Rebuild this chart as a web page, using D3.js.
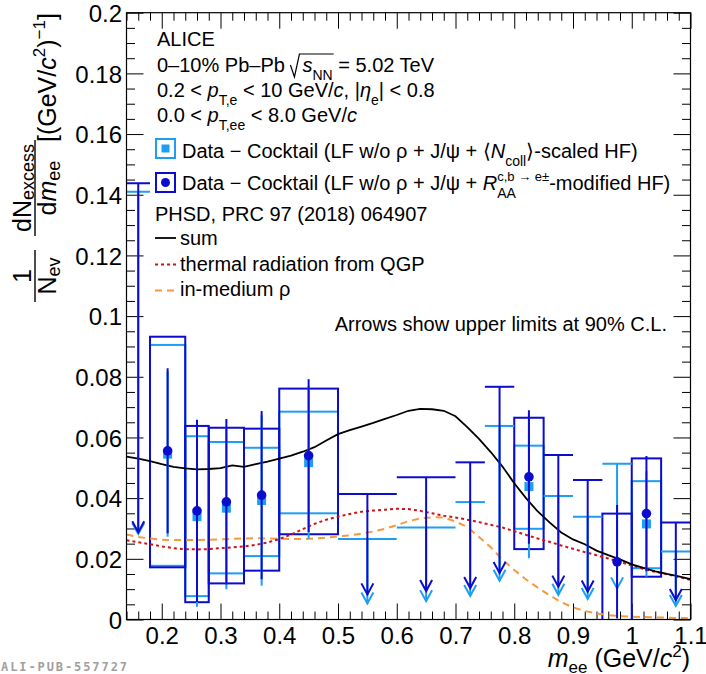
<!DOCTYPE html>
<html><head><meta charset="utf-8">
<script src="https://cdn.jsdelivr.net/npm/d3@7"></script>
<style>
body{margin:0;background:#fff;}
svg text{font-family:"Liberation Sans",Arial,Helvetica,sans-serif;white-space:pre;fill:#000;}
</style></head><body>
<svg id="c" width="706" height="674"></svg>
<script>
// ---- mass bins (GeV/c^2) ----
const binLo = [0.14,0.18,0.24,0.28,0.34,0.40,0.50,0.60,0.70,0.75,0.80,0.85,0.90,0.95,1.00,1.05];
const binHi = [0.18,0.24,0.28,0.34,0.40,0.50,0.60,0.70,0.75,0.80,0.85,0.90,0.95,1.00,1.05,1.10];

// ---- Data - Cocktail, R_AA-modified HF (dark blue) ----
const darkVal   = [null,0.0556,0.0358,0.0388,0.0410,0.0540,null,null,null,null,0.0470,null,null,0.0190,0.0349,null];
const darkStat  = [null,0.0272,0.0300,0.0273,0.0277,0.0252,null,null,null,null,0.0220,null,null,0.0187,0.0190,null];
const darkSysHi = [null,0.0932,0.0638,0.0632,0.0629,0.0761,null,null,null,null,0.0665,null,null,0.0349,0.0531,null];
const darkSysLo = [null,0.0172,0.0057,0.0119,0.0161,0.0281,null,null,null,null,0.0232,null,null,-0.0030,0.0141,null];
const darkLimit = [0.1438,null,null,null,null,null,0.0414,0.0469,0.0518,0.0767,null,0.0542,0.0460,null,null,0.0320];

// ---- Data - Cocktail, <Ncoll>-scaled HF (light blue) ----
const lightVal   = [null,0.0545,0.0339,0.0367,0.0392,0.0517,null,null,null,null,0.0438,null,null,null,0.0315,null];
const lightStat  = [null,0.0272,0.0297,0.0267,0.0281,0.0252,null,null,null,null,0.0236,null,null,null,0.0174,null];
const lightSysHi = [null,0.0905,0.0604,0.0585,0.0566,0.0685,null,null,null,null,0.0573,null,null,null,0.0456,null];
const lightSysLo = [null,0.0177,0.0077,0.0152,0.0209,0.0350,null,null,null,null,0.0299,null,null,null,0.0169,null];
const lightLimit = [0.1410,null,null,null,null,null,0.0265,0.0303,0.0387,0.0638,null,0.0407,0.0339,0.0513,null,0.0224];

// upper-limit arrows end at this fraction of the limit
const arrowEndFrac = 0.2;

// ---- PHSD model curves ----
const modelMass = [0.14,0.16,0.18,0.20,0.22,0.24,0.26,0.28,0.30,0.32,0.34,0.36,0.38,0.40,0.42,0.44,0.46,0.48,0.50,0.52,0.54,0.56,0.58,0.60,0.62,0.64,0.66,0.68,0.70,0.72,0.74,0.76,0.78,0.80,0.82,0.84,0.86,0.88,0.90,0.92,0.94,0.96,0.98,1.00,1.02,1.04,1.06,1.08,1.10];
const modelSum = [0.0537,0.0530,0.0522,0.0512,0.0503,0.0498,0.0495,0.0496,0.0499,0.0508,0.0503,0.0512,0.0520,0.0530,0.0540,0.0553,0.0568,0.0590,0.0611,0.0624,0.0636,0.0648,0.0661,0.0674,0.0688,0.0694,0.0693,0.0688,0.0670,0.0634,0.0595,0.0552,0.0504,0.0449,0.0400,0.0356,0.0320,0.0287,0.0264,0.0248,0.0227,0.0212,0.0198,0.0182,0.0170,0.0159,0.0150,0.0142,0.0133];
const modelQGP = [0.0261,0.0255,0.0248,0.0241,0.0235,0.0232,0.0231,0.0232,0.0235,0.0238,0.0241,0.0246,0.0254,0.0265,0.0280,0.0298,0.0315,0.0329,0.0339,0.0348,0.0355,0.0359,0.0362,0.0365,0.0364,0.0358,0.0350,0.0342,0.0336,0.0329,0.0321,0.0312,0.0303,0.0291,0.0279,0.0267,0.0256,0.0244,0.0233,0.0222,0.0212,0.0201,0.0190,0.0178,0.0167,0.0157,0.0149,0.0140,0.0130];
const modelRho = [0.0280,0.0272,0.0267,0.0263,0.0262,0.0262,0.0262,0.0263,0.0264,0.0266,0.0267,0.0268,0.0267,0.0266,0.0265,0.0265,0.0267,0.0270,0.0274,0.0277,0.0283,0.0290,0.0299,0.0311,0.0324,0.0333,0.0337,0.0336,0.0323,0.0305,0.0272,0.0238,0.0198,0.0163,0.0132,0.0105,0.0080,0.0057,0.0040,0.0028,0.0020,0.0014,0.0011,0.0009,0.0008,0.0007,0.0006,0.0005,0.0004];

// ---- axis ticks ----
const xTickValues = [0.2,0.3,0.4,0.5,0.6,0.7,0.8,0.9,1.0,1.1];
const xTickLabels = ["0.2","0.3","0.4","0.5","0.6","0.7","0.8","0.9","1","1.1"];
const yTickValues = [0,0.02,0.04,0.06,0.08,0.10,0.12,0.14,0.16,0.18,0.20];
const yTickLabels = ["0","0.02","0.04","0.06","0.08","0.1","0.12","0.14","0.16","0.18","0.2"];

const DARK = "#0c0cce", LIGHT = "#1e9ef0", RED = "#cc1414", ORANGE = "#f7993c";

const svg = d3.select("#c");
const L = 126.5, R = 690.5, T = 12.7, B = 619.5;
const x = d3.scaleLinear().domain([0.14, 1.1]).range([L, R]);
const y = d3.scaleLinear().domain([0, 0.2]).range([B, T]);

svg.append("clipPath").attr("id", "frame").append("rect")
  .attr("x", L).attr("y", T).attr("width", R - L).attr("height", B - T);

// ---- axes (ticks pointing into the frame) ----
const xMinor = d3.range(0.14, 1.1001, 0.02).filter(v => !xTickValues.some(t => Math.abs(t - v) < 1e-6));
const yMinor = d3.range(0, 0.2001, 0.005).filter(v => !yTickValues.some(t => Math.abs(t - v) < 1e-6));

function styleAxis(g) {
  g.select(".domain").remove();
  g.selectAll("line").attr("stroke", "#000").attr("stroke-width", 1);
  g.selectAll("text").style("font-size", "24px").attr("fill", "#000");
}
svg.append("g").attr("transform", `translate(0,${B})`)
  .call(d3.axisBottom(x).tickValues(xTickValues).tickFormat((d, i) => xTickLabels[i]).tickSizeInner(-16).tickSizeOuter(0).tickPadding(7.5))
  .call(styleAxis).attr("font-family", null);
svg.append("g").attr("transform", `translate(0,${B})`)
  .call(d3.axisBottom(x).tickValues(xMinor).tickFormat("").tickSizeInner(-8).tickSizeOuter(0)).call(styleAxis);
svg.append("g").attr("transform", `translate(0,${T})`)
  .call(d3.axisTop(x).tickValues(xTickValues).tickFormat("").tickSizeInner(-16).tickSizeOuter(0)).call(styleAxis);
svg.append("g").attr("transform", `translate(0,${T})`)
  .call(d3.axisTop(x).tickValues(xMinor).tickFormat("").tickSizeInner(-8).tickSizeOuter(0)).call(styleAxis);
svg.append("g").attr("transform", `translate(${L},0)`)
  .call(d3.axisLeft(y).tickValues(yTickValues).tickFormat((d, i) => yTickLabels[i]).tickSizeInner(-17).tickSizeOuter(0).tickPadding(4.5))
  .call(styleAxis).attr("font-family", null)
  .selectAll("text").attr("dy", "0.36em");
svg.append("g").attr("transform", `translate(${L},0)`)
  .call(d3.axisLeft(y).tickValues(yMinor).tickFormat("").tickSizeInner(-8.5).tickSizeOuter(0)).call(styleAxis);
svg.append("g").attr("transform", `translate(${R},0)`)
  .call(d3.axisRight(y).tickValues(yTickValues).tickFormat("").tickSizeInner(-17).tickSizeOuter(0)).call(styleAxis);
svg.append("g").attr("transform", `translate(${R},0)`)
  .call(d3.axisRight(y).tickValues(yMinor).tickFormat("").tickSizeInner(-8.5).tickSizeOuter(0)).call(styleAxis);

// ---- data layer ----
const plot = svg.append("g").attr("clip-path", "url(#frame)");
const bins = binLo.map((lo, i) => ({i, lo, hi: binHi[i], c: (lo + binHi[i]) / 2}));

function sysBoxes(hi, lo, color) {
  plot.append("g").selectAll("rect").data(bins.filter(b => hi[b.i] !== null)).join("rect")
    .attr("x", b => x(b.lo)).attr("width", b => x(b.hi) - x(b.lo))
    .attr("y", b => y(hi[b.i])).attr("height", b => y(lo[b.i]) - y(hi[b.i]))
    .attr("fill", "none").attr("stroke", color).attr("stroke-width", 2);
}
sysBoxes(lightSysHi, lightSysLo, LIGHT);
sysBoxes(darkSysHi, darkSysLo, DARK);

// model curves
const line = arr => d3.line().x((d, i) => x(modelMass[i])).y(d => y(d))(arr);
plot.append("path").attr("d", line(modelRho)).attr("fill", "none").attr("stroke", ORANGE)
  .attr("stroke-width", 2).attr("stroke-dasharray", "7,5");
plot.append("path").attr("d", line(modelQGP)).attr("fill", "none").attr("stroke", RED)
  .attr("stroke-width", 2).attr("stroke-dasharray", "3,3");
plot.append("path").attr("d", line(modelSum)).attr("fill", "none").attr("stroke", "#000")
  .attr("stroke-width", 1.8);

function series(val, stat, limit, color, marker) {
  const g = plot.append("g");
  const pts = bins.filter(b => val[b.i] !== null);
  g.selectAll("line.err").data(pts).join("line").attr("class", "err")
    .attr("x1", b => x(b.c)).attr("x2", b => x(b.c))
    .attr("y1", b => y(val[b.i] + stat[b.i])).attr("y2", b => y(val[b.i] - stat[b.i]))
    .attr("stroke", color).attr("stroke-width", 2);
  const lims = bins.filter(b => limit[b.i] !== null);
  g.selectAll("line.lim").data(lims).join("line").attr("class", "lim")
    .attr("x1", b => x(b.lo)).attr("x2", b => x(b.hi))
    .attr("y1", b => y(limit[b.i])).attr("y2", b => y(limit[b.i]))
    .attr("stroke", color).attr("stroke-width", 2);
  g.selectAll("line.arr").data(lims).join("line").attr("class", "arr")
    .attr("x1", b => x(b.c)).attr("x2", b => x(b.c))
    .attr("y1", b => y(limit[b.i])).attr("y2", b => y(limit[b.i] * arrowEndFrac))
    .attr("stroke", color).attr("stroke-width", 2);
  g.selectAll("path.head").data(lims).join("path").attr("class", "head")
    .attr("d", b => { const cx = x(b.c), ty = y(limit[b.i] * arrowEndFrac);
      return `M${cx - 6},${ty - 11} L${cx},${ty} L${cx + 6},${ty - 11}`; })
    .attr("fill", "none").attr("stroke", color).attr("stroke-width", 2);
  if (marker === "square") {
    g.selectAll("rect").data(pts).join("rect")
      .attr("x", b => x(b.c) - 4.5).attr("y", b => y(val[b.i]) - 4.5)
      .attr("width", 9).attr("height", 9).attr("fill", color);
  } else {
    g.selectAll("circle").data(pts).join("circle")
      .attr("cx", b => x(b.c)).attr("cy", b => y(val[b.i])).attr("r", 4.8).attr("fill", color);
  }
}
series(lightVal, lightStat, lightLimit, LIGHT, "square");
series(darkVal, darkStat, darkLimit, DARK, "circle");

// frame
svg.append("rect").attr("x", L).attr("y", T).attr("width", R - L).attr("height", B - T)
  .attr("fill", "none").attr("stroke", "#000").attr("stroke-width", 1.2);

// ---- rich text helper: sequential pieces with sub/superscripts ----
function rich(parent, x0, y0, segs, opts = {}) {
  const base = opts.size || 20;
  const g = parent.append("g");
  let cx = 0, lastX = 0, radX = 0;
  for (const s of segs) {
    if (s.gap) { cx += s.gap; continue; }
    if (s.radStart) { radX = cx; cx += 12; continue; }
    if (s.radEnd) {
      g.append("path").attr("d", `M${radX},-7 L${radX + 4},5 L${radX + 9},-18 L${cx + 1},-18`)
        .attr("fill", "none").attr("stroke", "#000").attr("stroke-width", 1.2);
      continue;
    }
    const t = g.append("text").attr("y", s.dy || 0)
      .style("font-size", (s.fs || base) + "px").style("font-style", s.it ? "italic" : "normal").text(s.t);
    const w = t.node().getComputedTextLength();
    if (s.stack) { t.attr("x", lastX); cx = Math.max(cx, lastX + w); }
    else { t.attr("x", cx); lastX = cx; cx += w; }
  }
  const shift = opts.anchor === "middle" ? -cx / 2 : opts.anchor === "end" ? -cx : 0;
  g.attr("transform", `translate(${x0 + shift},${y0})`);
  return cx;
}
const sub = (t, fs = 14, dy = 8) => ({t, fs, dy});
const sup = (t, fs = 13, dy = -9) => ({t, fs, dy});

// ---- header text ----
rich(svg, 157, 46, [{t: "ALICE"}]);
rich(svg, 157, 72, [{t: "0–10% Pb–Pb "}, {radStart: true}, {t: "s", it: true}, sub("NN"), {radEnd: true}, {t: " = 5.02 TeV"}]);
rich(svg, 157, 97, [{t: "0.2 < "}, {t: "p", it: true}, sub("T,e"), {t: " < 10 GeV/"}, {t: "c", it: true}, {t: ", |"}, {t: "η", it: true}, sub("e"), {t: "| < 0.8"}]);
rich(svg, 157, 122, [{t: "0.0 < "}, {t: "p", it: true}, sub("T,ee"), {t: " < 8.0 GeV/"}, {t: "c", it: true}]);

// legend: data
svg.append("rect").attr("x", 156).attr("y", 139).attr("width", 19).attr("height", 19)
  .attr("fill", "none").attr("stroke", LIGHT).attr("stroke-width", 2);
svg.append("rect").attr("x", 161.5).attr("y", 144.5).attr("width", 8).attr("height", 8).attr("fill", LIGHT);
svg.append("rect").attr("x", 156).attr("y", 173).attr("width", 19).attr("height", 19)
  .attr("fill", "none").attr("stroke", DARK).attr("stroke-width", 2);
svg.append("circle").attr("cx", 165.5).attr("cy", 182.5).attr("r", 4.5).attr("fill", DARK);
rich(svg, 182, 158, [{t: "Data − Cocktail (LF w/o ρ + J/ψ + ⟨"}, {t: "N", it: true}, sub("coll"), {t: "⟩-scaled HF)"}]);
rich(svg, 182, 190, [{t: "Data − Cocktail (LF w/o ρ + J/ψ + "}, {t: "R", it: true}, sub("AA", 14, 8), {t: "c,b → e±", fs: 13, dy: -9, stack: true}, {t: "-modified HF)"}]);

// legend: model
rich(svg, 155, 221, [{t: "PHSD, PRC 97 (2018) 064907"}]);
svg.append("line").attr("x1", 155).attr("x2", 176).attr("y1", 238).attr("y2", 238).attr("stroke", "#000").attr("stroke-width", 1.8);
svg.append("line").attr("x1", 155).attr("x2", 176).attr("y1", 264.5).attr("y2", 264.5).attr("stroke", RED).attr("stroke-width", 2).attr("stroke-dasharray", "3,3");
svg.append("line").attr("x1", 155).attr("x2", 176).attr("y1", 290.5).attr("y2", 290.5).attr("stroke", ORANGE).attr("stroke-width", 2).attr("stroke-dasharray", "7,5");
rich(svg, 180, 245, [{t: "sum"}]);
rich(svg, 180, 271, [{t: "thermal radiation from QGP"}]);
rich(svg, 180, 296, [{t: "in-medium ρ"}]);
rich(svg, 667, 331, [{t: "Arrows show upper limits at 90% C.L."}], {anchor: "end"});

// ---- axis titles ----
rich(svg, 690, 667, [{t: "m", it: true, fs: 25}, sub("ee", 17, 6), {t: " (GeV/", fs: 25}, {t: "c", it: true, fs: 25}, sup("2", 17, -10), {t: ")", fs: 25}], {anchor: "end"});

// y title, written along the rotated axis: 1/N_ev dN_excess/dm_ee [(GeV/c^2)^-1]
const yt = svg.append("g").attr("transform", "rotate(-90)");
rich(yt, -276, 31, [{t: "1", fs: 25}], {anchor: "middle"});
yt.append("line").attr("x1", -302).attr("x2", -250).attr("y1", 35).attr("y2", 35).attr("stroke", "#000").attr("stroke-width", 1.4);
rich(yt, -276, 56, [{t: "N", fs: 25}, sub("ev", 18, 4)], {anchor: "middle"});
rich(yt, -188, 31, [{t: "dN", fs: 25}, sub("excess", 18, 3)], {anchor: "middle"});
yt.append("line").attr("x1", -236).attr("x2", -140).attr("y1", 35).attr("y2", 35).attr("stroke", "#000").attr("stroke-width", 1.4);
rich(yt, -188, 56, [{t: "d", fs: 25}, {t: "m", it: true, fs: 25}, sub("ee", 18, 4)], {anchor: "middle"});
rich(yt, -142, 56, [{t: "[(GeV/", fs: 25}, {t: "c", it: true, fs: 25}, sup("2", 17, -11), {t: ")", fs: 25}, sup("−1", 17, -11), {t: "]", fs: 25}]);

// publication id
svg.append("text").attr("x", 1).attr("y", 671).attr("textLength", 126)
  .style("font-family", "'DejaVu Sans Mono',monospace").style("font-weight", "bold")
  .style("font-size", "12px").style("fill", "#a0a0a0").text("ALI-PUB-557727");
</script>
</body></html>
